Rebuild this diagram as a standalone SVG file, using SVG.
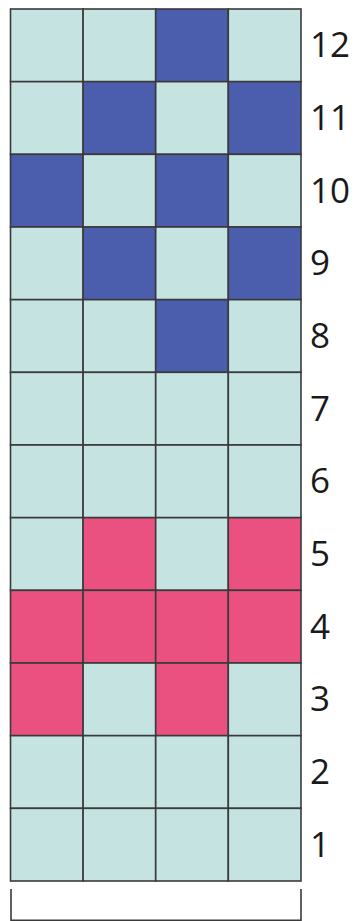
<svg xmlns="http://www.w3.org/2000/svg" width="357" height="921" viewBox="0 0 357 921">
<style>
.c{stroke:#3a3a3a;stroke-width:1.6}
.l{fill:#c4e3e1}
.b{fill:#4b5dad}
.p{fill:#eb5180}
.t{font-family:"Open Sans","Liberation Sans",sans-serif;font-size:35px;fill:#1a1a1a}
.br{fill:none;stroke:#3a3a3a;stroke-width:1.6}
</style>
<rect width="357" height="921" fill="#ffffff"/>
<g id="row12">
<rect class="c l" x="10.5" y="9" width="72.6" height="72.67"/>
<rect class="c l" x="83.1" y="9" width="72.6" height="72.67"/>
<rect class="c b" x="155.7" y="9" width="72.6" height="72.67"/>
<rect class="c l" x="228.3" y="9" width="72.7" height="72.67"/>
<text class="t" x="310" y="57">12</text>
</g>
<g id="row11">
<rect class="c l" x="10.5" y="81.67" width="72.6" height="72.67"/>
<rect class="c b" x="83.1" y="81.67" width="72.6" height="72.67"/>
<rect class="c l" x="155.7" y="81.67" width="72.6" height="72.67"/>
<rect class="c b" x="228.3" y="81.67" width="72.7" height="72.67"/>
<text class="t" x="310" y="130">11</text>
</g>
<g id="row10">
<rect class="c b" x="10.5" y="154.33" width="72.6" height="72.67"/>
<rect class="c l" x="83.1" y="154.33" width="72.6" height="72.67"/>
<rect class="c b" x="155.7" y="154.33" width="72.6" height="72.67"/>
<rect class="c l" x="228.3" y="154.33" width="72.7" height="72.67"/>
<text class="t" x="310" y="203">10</text>
</g>
<g id="row9">
<rect class="c l" x="10.5" y="227" width="72.6" height="72.67"/>
<rect class="c b" x="83.1" y="227" width="72.6" height="72.67"/>
<rect class="c l" x="155.7" y="227" width="72.6" height="72.67"/>
<rect class="c b" x="228.3" y="227" width="72.7" height="72.67"/>
<text class="t" x="310" y="275">9</text>
</g>
<g id="row8">
<rect class="c l" x="10.5" y="299.67" width="72.6" height="72.67"/>
<rect class="c l" x="83.1" y="299.67" width="72.6" height="72.67"/>
<rect class="c b" x="155.7" y="299.67" width="72.6" height="72.67"/>
<rect class="c l" x="228.3" y="299.67" width="72.7" height="72.67"/>
<text class="t" x="310" y="348">8</text>
</g>
<g id="row7">
<rect class="c l" x="10.5" y="372.33" width="72.6" height="72.67"/>
<rect class="c l" x="83.1" y="372.33" width="72.6" height="72.67"/>
<rect class="c l" x="155.7" y="372.33" width="72.6" height="72.67"/>
<rect class="c l" x="228.3" y="372.33" width="72.7" height="72.67"/>
<text class="t" x="310" y="421">7</text>
</g>
<g id="row6">
<rect class="c l" x="10.5" y="445" width="72.6" height="72.67"/>
<rect class="c l" x="83.1" y="445" width="72.6" height="72.67"/>
<rect class="c l" x="155.7" y="445" width="72.6" height="72.67"/>
<rect class="c l" x="228.3" y="445" width="72.7" height="72.67"/>
<text class="t" x="310" y="493">6</text>
</g>
<g id="row5">
<rect class="c l" x="10.5" y="517.67" width="72.6" height="72.67"/>
<rect class="c p" x="83.1" y="517.67" width="72.6" height="72.67"/>
<rect class="c l" x="155.7" y="517.67" width="72.6" height="72.67"/>
<rect class="c p" x="228.3" y="517.67" width="72.7" height="72.67"/>
<text class="t" x="310" y="566">5</text>
</g>
<g id="row4">
<rect class="c p" x="10.5" y="590.33" width="72.6" height="72.67"/>
<rect class="c p" x="83.1" y="590.33" width="72.6" height="72.67"/>
<rect class="c p" x="155.7" y="590.33" width="72.6" height="72.67"/>
<rect class="c p" x="228.3" y="590.33" width="72.7" height="72.67"/>
<text class="t" x="310" y="639">4</text>
</g>
<g id="row3">
<rect class="c p" x="10.5" y="663" width="72.6" height="72.67"/>
<rect class="c l" x="83.1" y="663" width="72.6" height="72.67"/>
<rect class="c p" x="155.7" y="663" width="72.6" height="72.67"/>
<rect class="c l" x="228.3" y="663" width="72.7" height="72.67"/>
<text class="t" x="310" y="711">3</text>
</g>
<g id="row2">
<rect class="c l" x="10.5" y="735.67" width="72.6" height="72.67"/>
<rect class="c l" x="83.1" y="735.67" width="72.6" height="72.67"/>
<rect class="c l" x="155.7" y="735.67" width="72.6" height="72.67"/>
<rect class="c l" x="228.3" y="735.67" width="72.7" height="72.67"/>
<text class="t" x="310" y="784">2</text>
</g>
<g id="row1">
<rect class="c l" x="10.5" y="808.33" width="72.6" height="72.67"/>
<rect class="c l" x="83.1" y="808.33" width="72.6" height="72.67"/>
<rect class="c l" x="155.7" y="808.33" width="72.6" height="72.67"/>
<rect class="c l" x="228.3" y="808.33" width="72.7" height="72.67"/>
<text class="t" x="310" y="857">1</text>
</g>
<g id="bracket">
<path class="br" d="M11 889 V920.2 H301 V889"/>
</g>
</svg>
